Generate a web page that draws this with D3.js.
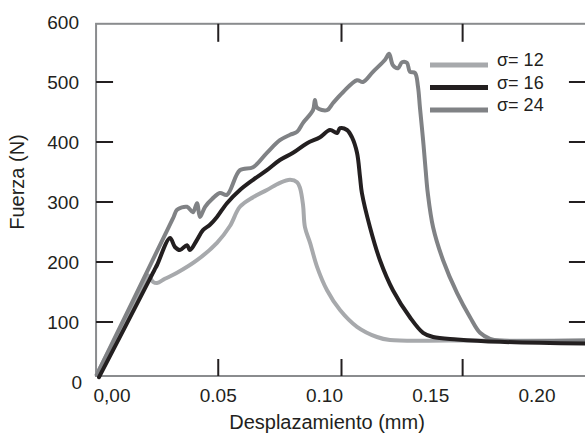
<!DOCTYPE html>
<html lang="es">
<head>
  <meta charset="UTF-8">
  <title>Fuerza vs desplazamiento</title>
  <script src="https://cdn.jsdelivr.net/npm/d3@7"></script>
  <style>
    body { margin: 0; background: #fff; }
    svg text {
      font-family: "Liberation Sans", Arial, sans-serif;
      fill: #231f20;
    }
  </style>
</head>
<body>
  <script>
    // curve data: [desplazamiento (mm), fuerza (N)]
    var s12 = [[-0.0071,13],[0.013,151],[0.0155,168],[0.0169,178],[0.0193,167],[0.0212,165],[0.0249,172],[0.0306,182],
               [0.04,203],[0.0494,232],[0.0555,260],[0.0602,292],[0.0664,308],[0.0729,320],
               [0.079,332],[0.0838,337],[0.0871,333],[0.0885,323],[0.0899,295],[0.0908,258],
               [0.0932,232],[0.0965,192],[0.1012,153],[0.1073,120],[0.1153,92],[0.1247,75],
               [0.1308,70],[0.16,69],[0.2226,69]];
    var s16 = [[-0.0061,8],[0.018,173],[0.0200,187],[0.0212,195],[0.0273,240],[0.0296,225],[0.032,220],[0.0353,228],
               [0.0367,220],[0.04,237],[0.0428,253],[0.0461,262],[0.0494,275],[0.0541,298],
               [0.0602,320],[0.0664,337],[0.0729,353],[0.079,370],[0.0852,382],[0.0918,398],
               [0.0979,408],[0.1026,420],[0.1059,415],[0.1073,423],[0.1106,420],[0.1129,408],
               [0.1153,382],[0.1167,342],[0.1176,315],[0.1214,258],[0.1261,203],[0.1322,153],
               [0.1402,108],[0.1464,82],[0.1511,75],[0.1624,71],[0.1826,67],[0.2226,64]];
    var s24 = [[-0.0072,12],[0.026,253],[0.029,275],[0.0306,287],[0.0353,292],[0.0381,283],[0.04,298],[0.0414,275],
               [0.0438,292],[0.0471,305],[0.0508,315],[0.0541,312],[0.0602,353],[0.0664,358],
               [0.0729,382],[0.079,403],[0.0838,412],[0.0871,417],[0.0899,432],[0.0946,453],
               [0.0955,470],[0.0965,457],[0.1012,453],[0.104,465],[0.1087,483],[0.1153,503],
               [0.1181,500],[0.1228,517],[0.1285,537],[0.1304,547],[0.1322,528],[0.1346,523],
               [0.1365,533],[0.1388,532],[0.1402,517],[0.1426,515],[0.144,492],[0.1449,458],
               [0.1464,403],[0.1476,353],[0.1486,315],[0.1511,258],[0.1558,203],[0.1624,148],
               [0.1685,108],[0.1732,82],[0.1779,72],[0.1826,69],[0.2226,69]];

    var series = [
      {name: "σ= 12", values: s12, color: "#a7a9ac"},
      {name: "σ= 16", values: s16, color: "#231f20"},
      {name: "σ= 24", values: s24, color: "#808285"}
    ];
    var drawOrder = [0, 2, 1];

    var xLabels = ["0,00", "0.05", "0.10", "0.15", "0.20"];
    var xLabelValues = [0, 0.05, 0.10, 0.15, 0.20];
    var xMarks = [0.05, 0.108, 0.165];         // frame tick marks (not on the labels)
    var yTicks = [0, 100, 200, 300, 400, 500, 600];
    var yMarks = [100, 200, 300, 400, 500];
    var xFrame = [-0.0075, 0.2235], yFrame = [10, 597];

    var width = 585, height = 436;

    var x = d3.scaleLinear().domain([0, 0.2]).range([112, 537]);
    var y = d3.scaleLinear().domain([0, 600]).range([382, 22]);

    var svg = d3.select("body").append("svg")
                .attr("width", width)
                .attr("height", height);

    // frame
    svg.append("rect")
       .attr("x", x(xFrame[0])).attr("y", y(yFrame[1]))
       .attr("width", x(xFrame[1]) - x(xFrame[0]))
       .attr("height", y(yFrame[0]) - y(yFrame[1]))
       .attr("fill", "none")
       .attr("stroke", "#8a8c8e")
       .attr("stroke-width", 2);

    // inward tick marks
    var marks = svg.append("g").attr("stroke", "#231f20").attr("stroke-width", 2);
    xMarks.forEach(function(d) {
      marks.append("line").attr("x1", x(d)).attr("x2", x(d))
           .attr("y1", y(yFrame[1])).attr("y2", y(yFrame[1]) + 18);
      marks.append("line").attr("x1", x(d)).attr("x2", x(d))
           .attr("y1", y(yFrame[0])).attr("y2", y(yFrame[0]) - 17);
    });
    yMarks.forEach(function(d) {
      marks.append("line").attr("x1", x(xFrame[0])).attr("x2", x(xFrame[0]) + 17)
           .attr("y1", y(d)).attr("y2", y(d));
      marks.append("line").attr("x1", x(xFrame[1])).attr("x2", x(xFrame[1]) - 18)
           .attr("y1", y(d)).attr("y2", y(d));
    });

    // tick labels
    svg.selectAll(".xl").data(xLabelValues).enter().append("text")
       .attr("x", function(d) { return x(d); })
       .attr("y", 402)
       .attr("text-anchor", "middle")
       .style("font-size", "19px")
       .text(function(d, i) { return xLabels[i]; });

    svg.selectAll(".yl").data(yTicks).enter().append("text")
       .attr("x", function(d) { return d === 0 ? 82 : 79; })
       .attr("y", function(d) { return y(d); })
       .attr("dy", ".35em")
       .attr("text-anchor", "end")
       .style("font-size", "19px")
       .text(function(d) { return d; });

    // axis titles
    svg.append("text")
       .attr("x", 327).attr("y", 429)
       .attr("text-anchor", "middle")
       .style("font-size", "20px")
       .text("Desplazamiento (mm)");

    svg.append("text")
       .attr("transform", "translate(24,182) rotate(-90)")
       .attr("text-anchor", "middle")
       .style("font-size", "20px")
       .text("Fuerza (N)");

    // curves (smoothed a little, passes through the read points)
    var line = d3.line()
                 .curve(d3.curveCatmullRom.alpha(0.5))
                 .x(function(d) { return x(d[0]); })
                 .y(function(d) { return y(d[1]); });

    drawOrder.forEach(function(i) {
      svg.append("path")
         .attr("d", line(series[i].values))
         .attr("fill", "none")
         .attr("stroke", series[i].color)
         .attr("stroke-width", 4)
         .attr("stroke-linejoin", "round")
         .attr("stroke-linecap", "round");
    });

    // legend
    var leg = svg.selectAll(".leg").data(series).enter().append("g")
                 .attr("transform", function(d, i) { return "translate(430," + (65 + i * 22.5) + ")"; });
    leg.append("line")
       .attr("x1", 0).attr("x2", 58)
       .attr("stroke", function(d) { return d.color; })
       .attr("stroke-width", 5);
    leg.append("text")
       .attr("x", 67).attr("y", 1)
       .style("font-size", "18px")
       .text(function(d) { return d.name; });
  </script>
</body>
</html>
